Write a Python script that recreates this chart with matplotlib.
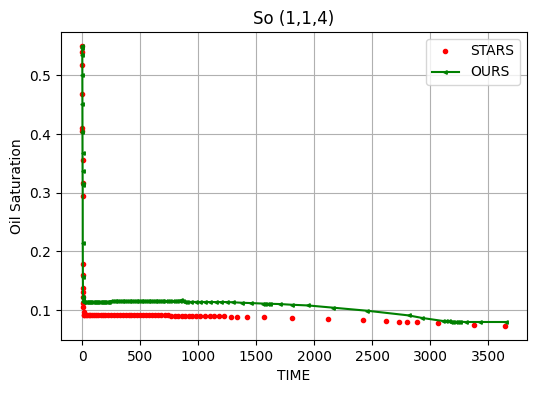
import matplotlib
matplotlib.use('Agg')
import matplotlib.pyplot as plt

# STARS reference run (red dots)
stars_time = [0, 0.5, 1, 1.5, 2, 2.5, 3, 3.5, 4, 5, 6, 7, 8, 9, 10, 11, 13, 16,
              20, 30, 40, 55, 70, 85, 100, 120, 140, 160, 180, 200, 225, 250, 275,
              300, 325, 350, 375, 400, 425, 450, 475, 500, 525, 550, 575, 600, 625,
              650, 680, 710, 740, 770, 800, 830, 860, 890, 920, 950, 985, 1020,
              1060, 1100, 1140, 1180, 1224, 1280, 1331, 1417, 1572, 1810, 2121,
              2422, 2616, 2728, 2802, 2888, 3069, 3379, 3647]
stars_so = [0.550, 0.540, 0.517, 0.469, 0.410, 0.405, 0.356, 0.316, 0.294, 0.179,
            0.160, 0.137, 0.130, 0.123, 0.112, 0.106, 0.097, 0.092,
            0.091, 0.091, 0.091, 0.091, 0.091, 0.091, 0.091, 0.091, 0.091, 0.091,
            0.091, 0.091, 0.091, 0.091, 0.091, 0.091, 0.091, 0.091, 0.091, 0.091,
            0.091, 0.091, 0.091, 0.091, 0.091, 0.091, 0.091, 0.091, 0.091, 0.091,
            0.0908, 0.0908, 0.0908, 0.0906, 0.0906, 0.0906, 0.0905, 0.0905, 0.0905,
            0.0905, 0.0905, 0.0905, 0.0905, 0.0905, 0.0904, 0.0904,
            0.0900, 0.0886, 0.0886, 0.0886, 0.0886, 0.0864, 0.0847, 0.0830, 0.0813,
            0.0796, 0.0796, 0.0796, 0.0779, 0.0745, 0.0728]

# our simulator (green line)
ours_time = [0, 0.5, 1, 1.5, 2, 2.5, 3, 3.5, 4, 4.5, 5, 6, 7, 8, 10, 15,
             20, 30, 40, 50, 60, 70, 80, 90, 100, 110, 120, 130, 140, 150, 160, 170,
             180, 190, 200, 210, 220, 230,
             250, 265, 280, 295, 310, 325, 340, 355, 370, 385, 400, 415, 430, 445,
             460, 475, 490, 505, 520, 535, 550, 565, 580, 595, 610, 625, 640, 655,
             670, 685, 700, 720, 740, 760, 780, 800, 820, 840, 855, 870, 885, 900,
             940, 980, 1020, 1060, 1100, 1150, 1200, 1245, 1300, 1374, 1460, 1560,
             1580, 1600, 1620, 1704, 1805, 1948, 2164, 2457, 2816, 2934, 3112, 3140,
             3160, 3180, 3200, 3220, 3240, 3256, 3308, 3434, 3653]
ours_so = [0.550, 0.547, 0.534, 0.501, 0.451, 0.404, 0.367, 0.337, 0.314, 0.313,
           0.214, 0.157, 0.123, 0.120, 0.116, 0.1135,
           0.1135, 0.1135, 0.1135, 0.1135, 0.1135, 0.1135, 0.1135, 0.1135, 0.1135,
           0.1135, 0.1135, 0.1135, 0.1135, 0.1135, 0.1135, 0.1135, 0.1135, 0.1135,
           0.1135, 0.1135, 0.1135, 0.1135,
           0.115, 0.115, 0.115, 0.115, 0.115, 0.115, 0.115, 0.115, 0.115, 0.115,
           0.115, 0.115, 0.115, 0.115, 0.115, 0.115, 0.115, 0.115, 0.115, 0.115,
           0.115, 0.115, 0.115, 0.115, 0.115, 0.115, 0.115, 0.115, 0.115, 0.115,
           0.115, 0.115, 0.115, 0.115, 0.115, 0.115, 0.1155, 0.116, 0.1165, 0.116,
           0.1145, 0.114,
           0.1138, 0.1138, 0.1137, 0.1137, 0.1136, 0.1136, 0.1136, 0.1136, 0.1132,
           0.1124, 0.1118, 0.1110, 0.1108, 0.1107, 0.1106, 0.1102, 0.1090, 0.1078,
           0.1040, 0.0988, 0.0908, 0.0864, 0.0813, 0.0808, 0.0805, 0.0803, 0.0801,
           0.0800, 0.0800, 0.0800, 0.0796, 0.0796, 0.0796]

fig, ax = plt.subplots(figsize=(5.36, 3.93), dpi=100)
fig.subplots_adjust(left=0.1138, right=0.9832, top=0.9186, bottom=0.1349)

ax.plot(stars_time, stars_so, 'r.', label='STARS')
ax.plot(ours_time, ours_so, 'g-<', markersize=2.5, label='OURS')

ax.set_title('So (1,1,4)')
ax.set_xlabel('TIME')
ax.set_ylabel('Oil Saturation')
ax.grid(True)
ax.legend(loc='upper right')

plt.savefig('out.png')
